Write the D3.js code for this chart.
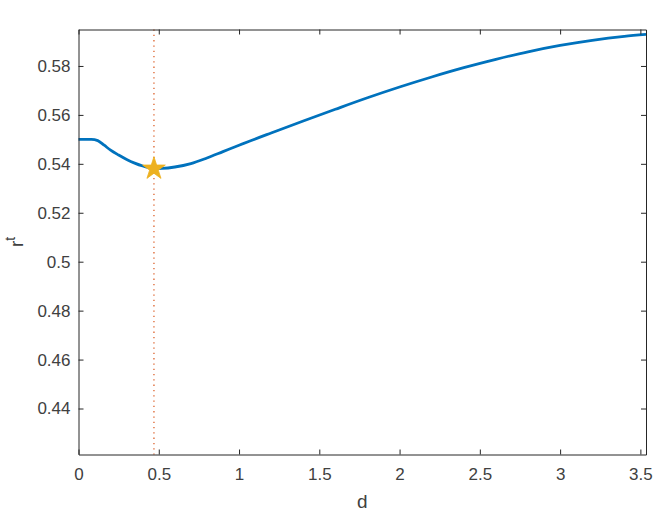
<!DOCTYPE html>
<html>
<head>
<meta charset="utf-8">
<script src="https://cdn.jsdelivr.net/npm/d3@7"></script>
<style>
  html, body { margin: 0; padding: 0; background: #fff; }
  svg { display: block; }
  text { font-family: "Liberation Sans", Arial, Helvetica, sans-serif; }
</style>
</head>
<body>
<svg id="chart" width="665" height="515"></svg>
<script>
// ---- data ----
const dValues = [0, 0.04, 0.08, 0.12, 0.16, 0.2, 0.25, 0.3, 0.35, 0.4, 0.44, 0.47, 0.52, 0.6, 0.7, 0.8, 0.9, 1.0, 1.2, 1.4, 1.6, 1.8, 2.0, 2.2, 2.4, 2.6, 2.8, 3.0, 3.2, 3.4, 3.535];
const rValues = [0.5500, 0.5500, 0.5500, 0.5495, 0.5476, 0.5456, 0.5436, 0.5418, 0.5403, 0.5391, 0.5384, 0.5380, 0.5381, 0.5387, 0.5401, 0.5424, 0.5450, 0.5476, 0.5526, 0.5575, 0.5623, 0.5670, 0.5714, 0.5755, 0.5793, 0.5827, 0.5858, 0.5884, 0.5905, 0.5921, 0.5929];
const xTicks = [0, 0.5, 1, 1.5, 2, 2.5, 3, 3.5];
const xTickLabels = ["0", "0.5", "1", "1.5", "2", "2.5", "3", "3.5"];
const yTicks = [0.44, 0.46, 0.48, 0.50, 0.52, 0.54, 0.56, 0.58];
const yTickLabels = ["0.44", "0.46", "0.48", "0.5", "0.52", "0.54", "0.56", "0.58"];
const xDomain = [0, 3.535];
const yDomain = [0.4212, 0.5949];

// ---- layout ----
const mLeft = 78.5, mRight = 646, mTop = 29.5, mBottom = 454.5;
const svg = d3.select("#chart");
svg.append("rect").attr("width", 665).attr("height", 515).attr("fill", "#fff");

const x = d3.scaleLinear().domain(xDomain).range([mLeft, mRight]);
const y = d3.scaleLinear().domain(yDomain).range([mBottom, mTop]);

const axisColor = "#262626";
const labelColor = "#404040";
const fs = 17;

// minimum point
const iMin = d3.minIndex(rValues);
const dMin = dValues[iMin], rMin = rValues[iMin];

// vertical dotted line
svg.append("line")
  .attr("x1", x(dMin)).attr("x2", x(dMin))
  .attr("y1", mTop).attr("y2", mBottom)
  .attr("stroke", "#D95319").attr("stroke-width", 1.2)
  .attr("stroke-dasharray", "1.3,4");

// curve
const pts = dValues.map((d, i) => [d, rValues[i]]);
svg.append("path")
  .datum(pts)
  .attr("fill", "none")
  .attr("stroke", "#0072BD")
  .attr("stroke-width", 2.8)
  .attr("stroke-linejoin", "round")
  .attr("d", d3.line().x(p => x(p[0])).y(p => y(p[1])).curve(d3.curveMonotoneX));

// star
svg.append("path")
  .attr("d", d3.symbol(d3.symbolStar, 160)())
  .attr("transform", `translate(${x(dMin)},${y(rMin)})`)
  .attr("fill", "#EDB120").attr("stroke", "#EDB120").attr("stroke-width", 0.8);

// axes
function styleAxis(g) {
  g.selectAll("path.domain").attr("stroke", axisColor).attr("stroke-width", 1);
  g.selectAll(".tick line").attr("stroke", axisColor).attr("stroke-width", 1);
  g.selectAll(".tick text").attr("fill", labelColor).attr("font-size", fs)
    .attr("font-family", '"Liberation Sans", Arial, sans-serif');
}
const gx = svg.append("g").attr("transform", `translate(0,${mBottom})`)
  .call(d3.axisBottom(x).tickValues(xTicks).tickFormat((d, i) => xTickLabels[i])
    .tickSizeInner(-5).tickSizeOuter(0).tickPadding(13));
styleAxis(gx);
const gxt = svg.append("g").attr("transform", `translate(0,${mTop})`)
  .call(d3.axisTop(x).tickValues(xTicks).tickFormat("")
    .tickSizeInner(-5).tickSizeOuter(0));
styleAxis(gxt);
const gy = svg.append("g").attr("transform", `translate(${mLeft},0)`)
  .call(d3.axisLeft(y).tickValues(yTicks).tickFormat((d, i) => yTickLabels[i])
    .tickSizeInner(-5).tickSizeOuter(0).tickPadding(8));
styleAxis(gy);
const gyr = svg.append("g").attr("transform", `translate(${mRight},0)`)
  .call(d3.axisRight(y).tickValues(yTicks).tickFormat("")
    .tickSizeInner(-5).tickSizeOuter(0));
styleAxis(gyr);

// axis labels
svg.append("text")
  .attr("x", (mLeft + mRight) / 2).attr("y", 508)
  .attr("text-anchor", "middle").attr("font-size", 19).attr("fill", labelColor)
  .text("d");

const yl = svg.append("text")
  .attr("transform", `translate(23,242) rotate(-90)`)
  .attr("text-anchor", "middle").attr("font-size", 19).attr("fill", labelColor);
yl.append("tspan").text("r");
yl.append("tspan").attr("font-size", 14).attr("dy", -8).text("t");
</script>
</body>
</html>
